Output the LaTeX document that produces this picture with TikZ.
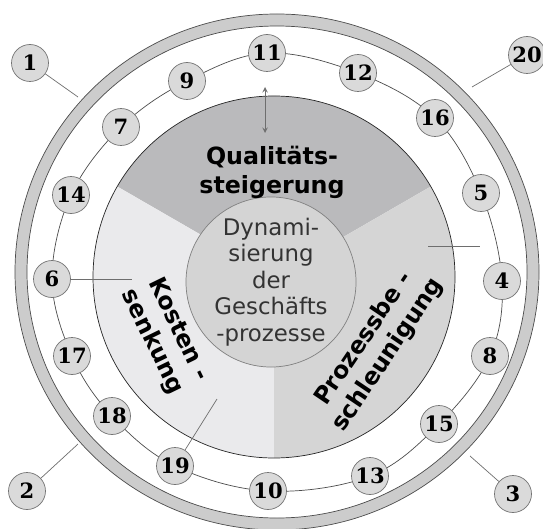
\documentclass[tikz,border=0pt]{standalone}
\usepackage{fontspec}
\setmainfont{DejaVu Sans}
\newfontfamily\numfont{DejaVu Serif}
\usepackage{tikz}
\usetikzlibrary{arrows,backgrounds}
\definecolor{topgray}{RGB}{186,186,188}
\definecolor{rightgray}{RGB}{213,213,213}
\definecolor{leftgray}{RGB}{234,234,236}
\definecolor{coregray}{RGB}{212,212,212}
\definecolor{bandgray}{RGB}{204,204,204}
\definecolor{numgray}{RGB}{218,218,218}
\definecolor{linegray}{RGB}{110,110,110}
\tikzset{numcirc/.style={circle, draw=gray!90!black, fill=numgray, minimum size=0.74cm, inner sep=0pt, font=\numfont\bfseries\fontsize{12}{13}\selectfont}}
\tikzset{leader/.style={draw=linegray, thin}}
\tikzset{sectorlabel/.style={font=\bfseries\fontsize{13.5}{16.5}\selectfont, align=center, inner sep=0pt}}
\tikzset{arrow/.style={linegray, thin, <->, >=stealth}}

\begin{document}
\begin{tikzpicture}[x=0.02cm, y=0.02cm]
\useasboundingbox (0,0) rectangle (543,528);
\coordinate (c) at (277,256);
\coordinate (d) at (274,251);
% outer band
\filldraw[draw=black!70, fill=bandgray, even odd rule] (c) ellipse (262 and 258) (c) ellipse (250 and 246);
% three sectors
\fill[topgray] (d) -- ++(30:181) arc (30:150:181) -- cycle;
\fill[leftgray] (d) -- ++(150:181) arc (150:270:181) -- cycle;
\fill[rightgray] (d) -- ++(270:181) arc (270:390:181) -- cycle;
\draw[black!85] (d) circle (181);
\node[circle, draw=gray, fill=coregray, minimum size=3.24cm, inner sep=0pt, align=center,
  font=\fontsize{13}{15}\selectfont, text=black!80] (core) at (271,246)
  {Dynami-\\sierung\\der\\Geschäfts\\-prozesse};
\node[sectorlabel] (quali) at (272,356) {Qualitäts-\\steigerung};
\node[sectorlabel, rotate=-64] (kosten) at (165,192) {Kosten -\\senkung};
\node[sectorlabel, rotate=56] (prozess) at (376,181) {Prozessbe -\\schleunigung};
% numbered circles
\foreach \n/\x/\y in {1/30/465, 20/527/473, 2/27/37, 3/513/34, 11/267/475, 9/187/447,
  7/121/401, 14/71/333, 6/52/249, 17/72/172, 18/112/112, 19/175/62, 10/268/37,
  13/370/52, 15/439/104, 8/490/172, 4/502/247, 5/481/335, 16/435/410, 12/358/455}
  \node[numcirc] (n\n) at (\x,\y) {\n};
\begin{pgfonlayer}{background}
\draw[black!70] plot[smooth cycle, tension=0.6] coordinates {(n11) (n12) (n16) (n5) (n4) (n8)
  (n15) (n13) (n10) (n19) (n18) (n17) (n6) (n14) (n7) (n9)};
\end{pgfonlayer}
% leaders to the band
\coordinate (b1) at (78,431);
\coordinate (b20) at (472,441);
\coordinate (b2) at (78,84);
\coordinate (b3) at (470,72);
\draw[leader] (n1) -- (b1);
\draw[leader] (n20) -- (b20);
\draw[leader] (n2) -- (b2);
\draw[leader] (n3) -- (b3);
% short ticks
\coordinate (t4a) at (428,282);
\coordinate (t4b) at (480,282);
\coordinate (t6) at (132,249);
\coordinate (t19) at (217,129);
\draw[leader] (t4a) -- (t4b);
\draw[leader] (n6) -- (t6);
\draw[leader] (n19) -- (t19);
\coordinate (atop) at (265,441);
\coordinate (abot) at (265,395);
\draw[arrow] (atop) -- (abot);
\end{tikzpicture}
\end{document}
